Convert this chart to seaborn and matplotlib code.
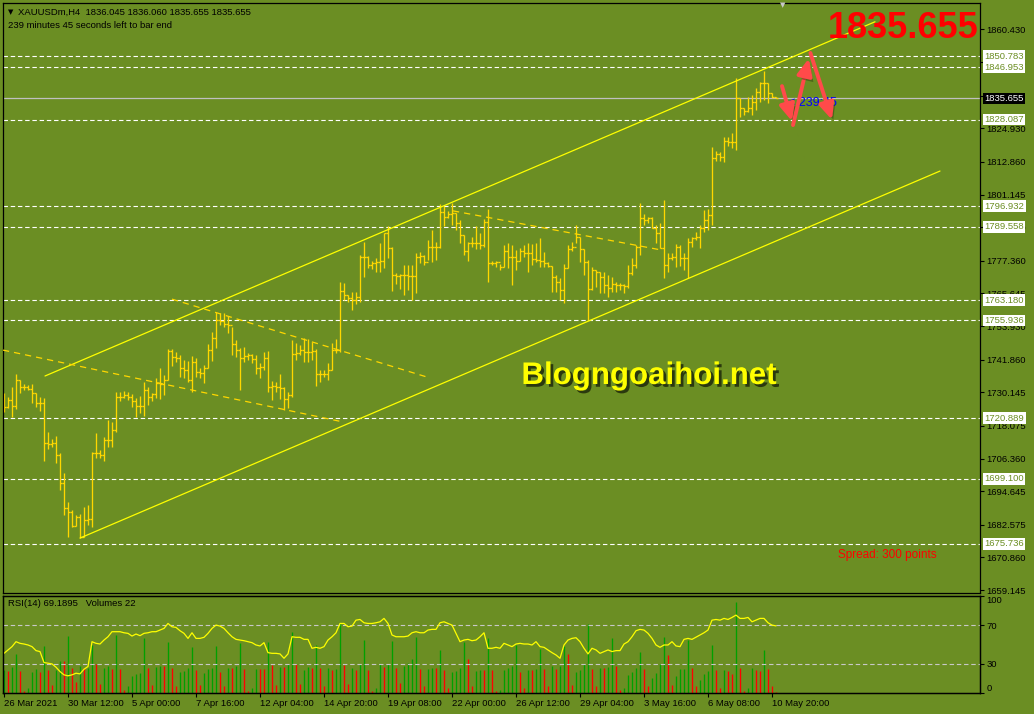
import numpy as np
import pandas as pd
import matplotlib
matplotlib.use('Agg')
import matplotlib.pyplot as plt
import matplotlib.patheffects as pe
import seaborn as sns

# XAUUSDm H4, 26 Mar 2021 -> 10 May 2021
highs = [
    1729.8, 1728.6, 1732.2, 1736.7, 1734.6, 1733.1, 1732.8, 1733.0, 1729.8, 1728.3,
    1728.0, 1715.8, 1713.4, 1714.6, 1708.2, 1701.0, 1690.7, 1687.9, 1686.1, 1686.4,
    1689.1, 1689.7, 1708.8, 1715.4, 1709.4, 1714.2, 1720.2, 1719.6, 1730.4, 1730.4,
    1730.7, 1730.4, 1729.5, 1728.0, 1728.8, 1734.0, 1731.9, 1729.8, 1735.2, 1738.7,
    1736.3, 1745.6, 1745.6, 1744.7, 1743.4, 1741.7, 1741.5, 1743.2, 1742.3, 1738.8,
    1740.0, 1747.5, 1751.9, 1759.1, 1758.5, 1758.5, 1757.7, 1753.5, 1748.9, 1745.9,
    1746.5, 1744.1, 1743.8, 1743.5, 1740.6, 1744.7, 1745.0, 1734.2, 1734.0, 1736.7,
    1732.2, 1730.1, 1748.9, 1747.7, 1747.1, 1749.5, 1749.3, 1748.3, 1745.7, 1738.2,
    1738.2, 1740.6, 1747.7, 1749.3, 1769.6, 1769.3, 1765.1, 1766.3, 1766.3, 1779.5,
    1784.0, 1779.0, 1777.3, 1778.3, 1783.6, 1787.2, 1790.0, 1782.4, 1772.9, 1772.5,
    1775.9, 1775.9, 1775.9, 1780.3, 1780.6, 1779.5, 1784.8, 1788.4, 1784.2, 1797.8,
    1797.0, 1795.4, 1798.2, 1794.4, 1792.0, 1786.6, 1784.2, 1785.8, 1789.9, 1787.2,
    1792.3, 1795.8, 1777.4, 1777.4, 1776.2, 1783.0, 1783.9, 1783.0, 1781.3, 1781.9,
    1783.0, 1783.6, 1783.4, 1783.6, 1785.4, 1780.6, 1777.1, 1775.5, 1772.3, 1771.1,
    1776.2, 1783.0, 1784.2, 1790.2, 1786.0, 1781.5, 1777.7, 1775.0, 1774.1, 1773.5,
    1773.5, 1772.3, 1771.7, 1769.9, 1769.3, 1768.9, 1775.9, 1778.3, 1783.0, 1798.0,
    1794.1, 1793.2, 1793.2, 1790.2, 1790.8, 1799.2, 1780.0, 1780.0, 1783.3, 1783.0,
    1780.0, 1785.4, 1786.0, 1787.8, 1790.2, 1795.6, 1795.9, 1818.4, 1816.8, 1816.3,
    1821.9, 1821.9, 1823.1, 1842.9, 1835.7, 1832.1, 1836.3, 1836.9, 1839.3, 1841.7,
    1845.5, 1841.2, 1837.5, 1836.060,
]
lows = [
    1723.2, 1724.4, 1721.4, 1724.0, 1730.0, 1731.0, 1731.0, 1726.4, 1725.0, 1723.6,
    1705.6, 1709.7, 1710.6, 1704.6, 1695.1, 1686.1, 1678.3, 1681.9, 1682.1, 1677.7,
    1678.3, 1682.5, 1681.9, 1706.4, 1706.4, 1705.6, 1710.6, 1710.4, 1716.0, 1727.1,
    1728.0, 1727.4, 1724.7, 1721.4, 1722.6, 1721.6, 1725.6, 1727.1, 1728.0, 1727.6,
    1729.2, 1734.6, 1739.6, 1741.1, 1735.8, 1735.2, 1734.0, 1730.4, 1735.5, 1735.4,
    1733.4, 1738.8, 1741.5, 1746.2, 1754.3, 1753.7, 1751.3, 1743.5, 1742.9, 1731.0,
    1741.2, 1741.7, 1740.6, 1736.7, 1735.2, 1738.2, 1730.4, 1727.4, 1730.4, 1727.7,
    1723.8, 1724.6, 1728.6, 1741.7, 1743.5, 1741.2, 1741.2, 1741.7, 1732.5, 1734.0,
    1735.8, 1734.6, 1738.2, 1744.1, 1744.7, 1763.3, 1762.7, 1759.7, 1761.7, 1762.7,
    1771.7, 1774.7, 1774.4, 1773.2, 1773.2, 1774.7, 1778.5, 1766.5, 1768.9, 1767.2,
    1765.1, 1766.9, 1763.3, 1765.9, 1776.5, 1775.9, 1777.7, 1777.1, 1777.7, 1781.9,
    1789.9, 1792.8, 1790.2, 1788.4, 1783.6, 1779.5, 1777.4, 1782.4, 1781.5, 1781.5,
    1782.4, 1769.9, 1775.9, 1775.3, 1774.1, 1775.0, 1774.7, 1768.7, 1774.1, 1777.4,
    1778.9, 1773.5, 1775.9, 1777.1, 1775.3, 1775.3, 1775.0, 1766.3, 1766.3, 1763.3,
    1762.3, 1774.7, 1781.0, 1783.9, 1777.1, 1772.3, 1756.1, 1766.9, 1768.1, 1765.9,
    1765.7, 1764.5, 1766.3, 1766.0, 1766.9, 1765.7, 1767.5, 1772.3, 1774.7, 1779.5,
    1790.2, 1790.8, 1789.0, 1783.6, 1781.8, 1771.1, 1773.5, 1777.7, 1775.3, 1775.6,
    1774.1, 1771.1, 1782.4, 1784.8, 1781.8, 1787.8, 1788.4, 1790.2, 1813.2, 1813.2,
    1812.9, 1818.7, 1817.8, 1817.2, 1829.1, 1829.7, 1830.9, 1829.9, 1831.5, 1834.5,
    1835.1, 1833.9, 1835.7, 1835.655,
]
closes = [
    1725.0, 1727.5, 1725.2, 1734.6, 1732.2, 1731.9, 1731.5, 1729.8, 1726.4, 1726.2,
    1711.8, 1711.6, 1712.1, 1707.6, 1697.5, 1688.5, 1687.3, 1682.1, 1685.5, 1678.3,
    1684.3, 1684.7, 1708.2, 1708.2, 1707.6, 1713.0, 1713.0, 1716.6, 1728.3, 1728.6,
    1729.0, 1728.6, 1727.1, 1725.2, 1725.2, 1731.0, 1728.3, 1729.5, 1733.6, 1733.1,
    1734.6, 1745.1, 1742.9, 1742.3, 1738.7, 1738.2, 1734.6, 1741.1, 1737.6, 1737.2,
    1738.8, 1745.3, 1749.5, 1756.1, 1755.8, 1754.6, 1754.3, 1747.4, 1745.2, 1742.3,
    1743.1, 1743.5, 1742.1, 1739.0, 1739.1, 1742.3, 1732.2, 1732.5, 1732.2, 1731.8,
    1727.7, 1729.2, 1743.8, 1744.1, 1745.3, 1744.7, 1744.7, 1745.0, 1736.6, 1736.7,
    1736.6, 1738.2, 1745.3, 1745.3, 1766.5, 1765.1, 1763.9, 1763.3, 1764.5, 1778.9,
    1778.9, 1775.9, 1776.5, 1777.1, 1777.3, 1787.2, 1782.1, 1772.3, 1772.0, 1772.3,
    1772.3, 1771.9, 1771.9, 1778.9, 1779.1, 1777.1, 1782.2, 1782.2, 1782.4, 1795.0,
    1793.0, 1794.2, 1794.6, 1790.8, 1786.6, 1780.9, 1783.9, 1783.6, 1783.6, 1783.0,
    1791.4, 1776.7, 1776.7, 1777.1, 1775.0, 1781.0, 1778.9, 1778.9, 1777.4, 1781.0,
    1780.3, 1780.3, 1777.9, 1777.7, 1777.4, 1776.7, 1775.5, 1771.7, 1769.9, 1766.9,
    1774.7, 1781.5, 1782.4, 1786.0, 1781.5, 1777.1, 1767.1, 1774.1, 1773.5, 1771.7,
    1768.7, 1767.5, 1768.9, 1768.7, 1768.7, 1768.4, 1772.9, 1775.9, 1782.4, 1792.6,
    1792.0, 1792.6, 1789.0, 1787.2, 1781.8, 1775.9, 1778.5, 1778.8, 1782.4, 1778.3,
    1778.5, 1784.2, 1785.4, 1786.0, 1789.0, 1792.0, 1793.8, 1814.2, 1815.6, 1814.8,
    1820.4, 1819.9, 1819.9, 1835.7, 1832.1, 1831.2, 1832.4, 1834.5, 1838.1, 1841.1,
    1841.1, 1837.5, 1836.045, 1835.655,
]
first_open = 1727.0

rsi = [
    40.9, 44.4, 47.8, 52.9, 51.2, 50.5, 49.5, 47.8, 43.7, 42.7,
    31.4, 30.7, 30.0, 26.6, 22.1, 18.7, 17.7, 18.7, 20.4, 19.7,
    24.5, 27.3, 52.9, 51.2, 50.5, 54.6, 58.0, 63.2, 63.2, 63.2,
    62.1, 61.5, 58.7, 60.8, 59.1, 61.5, 62.1, 63.2, 63.2, 64.9,
    66.6, 71.7, 68.3, 67.6, 64.2, 61.5, 56.3, 62.1, 56.3, 56.3,
    57.4, 61.5, 66.6, 70.0, 69.0, 66.6, 62.1, 58.0, 55.3, 54.6,
    53.9, 52.9, 51.9, 49.5, 48.5, 51.9, 41.6, 40.9, 40.9, 40.3,
    35.8, 40.3, 58.0, 57.4, 57.4, 55.3, 55.3, 46.1, 47.1, 46.1,
    47.8, 54.6, 58.0, 62.1, 71.7, 71.7, 68.3, 69.0, 75.1, 75.8,
    72.4, 71.7, 71.7, 72.4, 73.4, 76.9, 71.7, 59.8, 58.0, 58.0,
    58.0, 58.7, 62.1, 63.2, 62.1, 62.1, 64.9, 65.6, 65.6, 72.4,
    73.4, 71.7, 70.0, 61.5, 52.9, 54.6, 55.3, 53.9, 54.6, 58.0,
    62.1, 46.1, 46.1, 47.1, 46.1, 51.2, 49.5, 47.8, 50.5, 51.2,
    50.5, 50.5, 49.5, 52.9, 47.8, 47.1, 44.4, 41.6, 39.2, 35.8,
    49.5, 54.6, 56.3, 57.0, 52.9, 46.1, 40.3, 46.1, 44.4, 40.9,
    42.7, 44.4, 42.7, 43.7, 43.7, 50.5, 52.9, 58.0, 64.2, 65.6,
    64.9, 61.5, 56.3, 49.5, 47.1, 49.5, 49.5, 52.9, 48.5, 47.8,
    55.3, 56.3, 55.3, 57.5, 59.8, 62.1, 64.9, 75.1, 75.8, 75.1,
    76.9, 75.8, 77.9, 80.3, 76.9, 76.9, 77.9, 73.4, 75.1, 76.9,
    76.9, 72.4, 70.0, 69.1895,
]
volumes = [
    680, 660, 780, 1160, 660, 60, 140, 630, 720, 620,
    1400, 700, 230, 680, 950, 950, 1700, 760, 330, 800,
    740, 760, 1430, 860, 260, 750, 800, 730, 1730, 710,
    80, 200, 500, 560, 600, 1630, 750, 230, 780, 800,
    800, 1530, 750, 200, 630, 660, 760, 1380, 700, 230,
    600, 710, 760, 1400, 630, 200, 760, 760, 800, 1500,
    730, 60, 140, 730, 710, 710, 1530, 830, 230, 780,
    780, 860, 1830, 860, 260, 700, 780, 750, 1430, 760,
    200, 760, 680, 710, 2080, 830, 260, 750, 700, 880,
    1580, 700, 60, 140, 860, 780, 860, 1550, 750, 300,
    800, 900, 1030, 1680, 710, 200, 710, 760, 760, 1280,
    700, 160, 630, 660, 750, 1530, 1010, 200, 660, 700,
    700, 1630, 680, 60, 100, 680, 760, 800, 1430, 630,
    160, 680, 680, 720, 1310, 730, 200, 800, 710, 800,
    1400, 1180, 230, 630, 680, 880, 2060, 710, 200, 750,
    750, 780, 1630, 800, 80, 140, 530, 630, 750, 1230,
    710, 200, 460, 600, 860, 1680, 1130, 230, 500, 710,
    720, 1580, 750, 200, 400, 560, 660, 1430, 680, 160,
    680, 660, 580, 2710, 760, 60, 160, 760, 680, 650,
    1280, 730, 200, 22,
]

price_ticks = [1860.430, 1848.715, 1836.645, 1824.930, 1812.860, 1801.145, 1789.430,
               1777.360, 1765.645, 1753.930, 1741.860, 1730.145, 1718.075, 1706.360,
               1694.645, 1682.575, 1670.860, 1659.145]
levels = [1850.783, 1846.953, 1828.087, 1796.932, 1789.558, 1763.180, 1755.936,
          1720.889, 1699.100, 1675.736]
bid = 1835.655
date_ticks = [0, 16, 32, 48, 64, 80, 96, 112, 128, 144, 160, 176, 192]
date_labels = ['26 Mar 2021', '30 Mar 12:00', '5 Apr 00:00', '7 Apr 16:00', '12 Apr 04:00',
               '14 Apr 20:00', '19 Apr 08:00', '22 Apr 00:00', '26 Apr 12:00', '29 Apr 04:00',
               '3 May 16:00', '6 May 08:00', '10 May 20:00']

# oggetti disegnati a mano (barra, prezzo)
channel = [((10.25, 1736.0), (217.75, 1863.2)), ((19.0, 1677.8), (234.0, 1809.6))]
dashed_lines = [((-0.25, 1745.3), (84.75, 1719.5)), ((42.0, 1763.6), (106.5, 1735.3)),
                ((112.25, 1795.3), (164.5, 1781.2))]
arrows = [((194.5, 1840.1), (197.0, 1827.5)), ((197.25, 1826.1), (201.2, 1850.0)),
          ((201.6, 1852.0), (207.0, 1828.0))]

BG = '#6B8E23'
BAR = '#FFD700'
W, H = 1034, 714

sns.set_style('ticks', rc={'axes.facecolor': BG, 'figure.facecolor': BG,
                           'axes.edgecolor': 'black'})
plt.rcParams['font.family'] = ['Liberation Sans', 'DejaVu Sans']
FS = 6.8

fig = plt.figure(figsize=(W / 100, H / 100), dpi=100)
L, R = 3, 980
ax = fig.add_axes([L / W, 1 - 593 / H, (R - L) / W, 590 / H])
axv = fig.add_axes([L / W, 1 - 693 / H, (R - L) / W, 97 / H])
axr = axv.twinx()

idx = np.arange(len(closes))
opens = np.r_[first_open, closes[:-1]]

# --- grafico principale ---
for lv in levels:
    ax.axhline(lv, color='white', lw=0.8, ls=(0, (4, 2.5)), zorder=1)
    ax.text(1.0045, lv, f'{lv:.3f}', transform=ax.get_yaxis_transform(), ha='left',
            va='center', fontsize=FS, color=BG, clip_on=False, zorder=10,
            bbox=dict(boxstyle='square,pad=0.15', fc='white', ec='none'))
ax.axhline(bid, color='#C0C0C0', lw=0.9, zorder=1)
ax.text(1.0045, bid, f'{bid:.3f}', transform=ax.get_yaxis_transform(), ha='left',
        va='center', fontsize=FS, color='white', clip_on=False, zorder=10,
        bbox=dict(boxstyle='square,pad=0.15', fc='black', ec='none'))

ax.vlines(idx, lows, highs, color=BAR, lw=0.95, zorder=2)
ax.hlines(opens, idx - 0.45, idx, color=BAR, lw=0.95, zorder=2)
ax.hlines(closes, idx, idx + 0.45, color=BAR, lw=0.95, zorder=2)

for (x0, y0), (x1, y1) in channel:
    ax.plot([x0, x1], [y0, y1], color='#FFFF00', lw=0.9, zorder=3)
for (x0, y0), (x1, y1) in dashed_lines:
    ax.plot([x0, x1], [y0, y1], color=BAR, lw=0.9, ls=(0, (5, 4)), zorder=3)

ax.text(196.0, bid - 1.8, '< 239:45', color='#0000FF', fontsize=9, va='center',
        ha='left', zorder=4)
for tail, tip in arrows:
    an = ax.annotate('', xy=tip, xytext=tail, zorder=6,
                     arrowprops=dict(arrowstyle='-|>,head_length=1.1,head_width=0.5',
                                     color='#FF4A4A', lw=2.8, mutation_scale=9,
                                     shrinkA=0, shrinkB=0))
    an.arrow_patch.set_path_effects([
        pe.SimplePatchShadow(offset=(2, -3), shadow_rgbFace='#2e3a0e', alpha=0.45),
        pe.Normal()])

ax.set_xlim((L - 4) / 4, (R - 4) / 4)
ax.set_ylim(1871.02 - 0.3591 * 593, 1871.02 - 0.3591 * 3)
ax.set_xticks([])
ax.yaxis.tick_right()
ax.set_yticks(price_ticks)
ax.set_yticklabels([f'{v:.3f}' for v in price_ticks])
ax.tick_params(axis='y', length=3, width=0.8, pad=1.5, labelsize=FS, colors='black')

# --- finestra RSI + Volumes ---
vol = np.array(volumes)
vol_col = ['#00A000' if i == 0 or vol[i] > vol[i - 1] else '#FF0000' for i in idx]
axv.vlines(idx, 0, vol, colors=vol_col, lw=0.95)
axv.set_ylim(0, vol.max() * 1.07)
axv.set_yticks([])
axv.set_xlim((L - 4) / 4, (R - 4) / 4)
axv.set_xticks(date_ticks)
axv.set_xticklabels(date_labels)
axv.tick_params(axis='x', length=3, width=0.8, pad=1.5, labelsize=FS, colors='black')
for lbl in axv.get_xticklabels():
    lbl.set_ha('left')

for lv in (30, 70):
    axr.axhline(lv, color='#C8C8C8', lw=0.8, ls=(0, (4, 2.5)))
df = pd.DataFrame({'bar': idx, 'rsi': rsi})
sns.lineplot(data=df, x='bar', y='rsi', ax=axr, color='#FFFF00', lw=0.9)
axr.set_xlabel('')
axr.set_ylabel('')
axr.set_ylim(0, 100)
axr.set_yticks([0, 30, 70, 100])
axr.set_yticklabels(['0', '30', '70', '100'])
axr.tick_params(axis='y', length=3, width=0.8, pad=1.5, labelsize=FS, colors='black')
tl = axr.get_yticklabels()
tl[0].set_va('bottom')
tl[-1].set_va('top')

for a in (ax, axv, axr):
    for s in a.spines.values():
        s.set_color('black')
        s.set_linewidth(0.9)

# --- testi ---
def fx(x):
    return x / W


def fy(y):
    return 1 - y / H


fig.text(fx(8), fy(12), '▼', fontsize=5, color='black', va='center', ha='left',
         family=['DejaVu Sans'])
fig.text(fx(18), fy(12), f'XAUUSDm,H4  {opens[-1]:.3f} {highs[-1]:.3f} {lows[-1]:.3f} '
         f'{closes[-1]:.3f}', fontsize=FS, color='black', va='center', ha='left')
fig.text(fx(8), fy(25), '239 minutes 45 seconds left to bar end', fontsize=FS,
         color='black', va='center', ha='left')
fig.text(fx(783), fy(5), '▼', fontsize=5, color='#C8C8C8', va='center', ha='center',
         family=['DejaVu Sans'])
fig.text(fx(8), fy(604), f'RSI(14) {rsi[-1]:.4f}   Volumes {volumes[-1]}', fontsize=FS,
         color='black', va='center', ha='left')
fig.text(fx(978), fy(28), f'{bid:.3f}', fontsize=26, fontweight='bold', color='#FF0000',
         va='center', ha='right')
fig.text(fx(649), fy(376), 'Blogngoaihoi.net', fontsize=22.5, fontweight='bold',
         color='#FFFF00', va='center', ha='center',
         path_effects=[pe.SimplePatchShadow(offset=(2, -2), shadow_rgbFace='black',
                                            alpha=0.6), pe.Normal()])
fig.text(fx(838), fy(555), 'Spread: 300 points', fontsize=8.5, color='#FF0000',
         va='center', ha='left')

fig.savefig('out.png', dpi=100, facecolor=BG)
